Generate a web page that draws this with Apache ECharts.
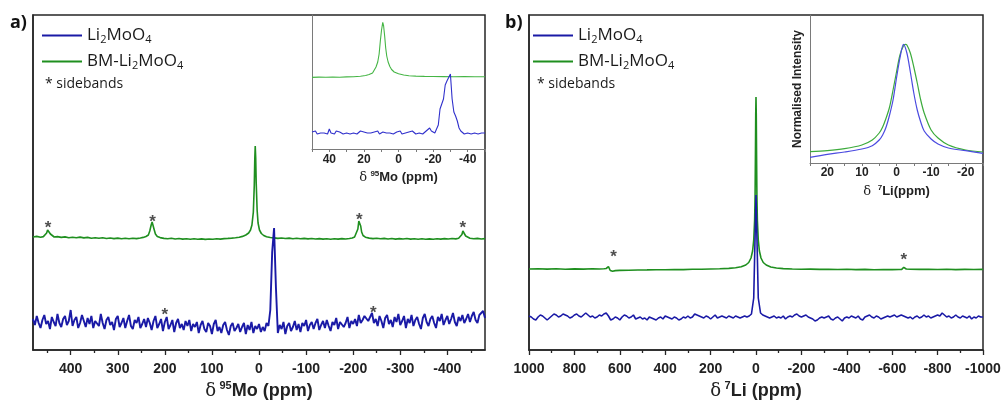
<!DOCTYPE html>
<html><head><meta charset="utf-8">
<script src="https://cdn.jsdelivr.net/npm/echarts@6/dist/echarts.min.js"></script>
<style>html,body{margin:0;padding:0;background:#fff}#c{width:1001px;height:400px}</style>
</head><body><div id="c"></div>
<script>
// ---------- DATA ----------
// Panel a: 95Mo spectra (x: ppm, y: arbitrary offset intensity)
const moBlueStart = 480, moBlueStep = -4;
const moBlueMain = [
31,25,34,27,22,30,35,26,29,21,
33,28,24,36,27,23,31,34,25,29,
40,24,30,33,22,27,35,29,23,32,
26,34,22,29,31,24,36,27,21,30,
33,25,28,20,31,34,23,27,32,22,
29,35,24,21,30,27,33,22,26,31,
23,32,27,20,29,34,22,26,31,19,
28,33,21,25,30,18,27,31,22,26,
20,29,24,30,19,26,23,28,17,25,
29,21,18,27,24,16,26,30,19,23,
17,25,28,20,15,24,27,19,22,26,
18,23,27,16,25,20,28,17,24,21,
26,18,23,19,27,24,40,98,122,62,
17,25,21,28,16,24,27,19,23,29,
20,26,18,27,24,30,19,25,28,21,
27,31,20,25,29,22,30,24,19,28,
25,32,21,28,30,23,27,33,22,29,
26,31,24,35,27,30,34,36,29,33,
37,27,31,24,34,29,22,32,35,26,
30,23,33,28,36,25,29,34,22,31,
27,35,24,30,33,26,21,32,36,28,
24,31,34,27,22,33,29,36,25,30,
34,26,31,37,28,24,33,29,35,27,
31,36,28,34,38,30,27,35,33,39,32
];
const moGreenMain = [
[480,113],[472,113.6],[464,112.8],[458,113.4],[454,114.5],[451,117],[449,120],[447,121],[445,119],[443,116],[440,114],[435,113],[428,113.4],[420,112.6],[412,113.1],[404,112.3],[396,112.8],[388,112.2],[380,112.9],[372,112.1],[364,112.6],[356,111.8],[348,112.3],[340,111.7],[332,112.2],[324,111.5],[316,112],[308,111.4],[300,111.9],[292,111.3],[284,111.8],[276,111.2],[268,111.7],[260,111.4],[252,112],[246,112.6],[240,113.5],[235,115],[232,119],[229,125],[227,128],[225,126],[223,121],[220,116],[216,113.5],[210,112.4],[202,111.6],[194,111.2],[186,111.7],[178,111],[170,111.5],[162,110.9],[154,111.3],[146,110.8],[138,111.2],[130,110.7],[122,111.1],[114,110.6],[106,111],[98,110.8],[90,111.3],[82,110.9],[74,111.4],[66,111.6],[58,111.9],[50,112.3],[42,112.8],[35,113.6],[28,115],[22,117],[18,120],[15,125],[12,138],[10,165],[9,190],[8,204],[7,192],[6,168],[4,140],[2,127],[-1,120],[-5,116.5],[-10,114.5],[-16,113.2],[-24,112.5],[-32,112.1],[-40,111.6],[-48,112],[-56,111.5],[-64,111.9],[-72,111.3],[-80,111.7],[-88,111.2],[-96,111.6],[-104,111.1],[-112,111.5],[-120,111],[-128,111.4],[-136,110.9],[-144,111.3],[-152,110.8],[-160,111.2],[-168,110.9],[-176,111.4],[-184,111],[-192,111.5],[-198,112],[-203,113],[-207,115],[-210,121],[-212,129],[-214,130],[-216,124],[-218,118],[-221,114.5],[-226,112.8],[-234,111.9],[-242,111.4],[-250,111.8],[-258,111.2],[-266,111.6],[-274,111],[-282,111.5],[-290,110.9],[-298,111.4],[-306,111],[-314,111.5],[-322,110.9],[-330,111.3],[-338,110.8],[-346,111.2],[-354,110.7],[-362,111.1],[-370,110.8],[-378,111.3],[-386,110.9],[-394,111.4],[-402,111],[-410,111.5],[-418,111.1],[-424,111.8],[-428,112.8],[-431,115.5],[-433,119],[-435,120],[-437,117],[-439,114],[-442,112.5],[-448,111.8],[-456,111.2],[-464,111.6],[-472,111],[-480,111.4]
];
const moStars = [[448,127],[226,133],[-213,135],[-433,127],[200,40],[-243,42]];
const moLabels = [400,300,200,100,0,-100,-200,-300,-400];
const moMinor = [450,350,250,150,50,-50,-150,-250,-350,-450];

// Panel a inset
const moInsetBlueStart = 50, moInsetBlueStep = -1;
const moBlueInset = [
17,16,18,15,17,16,18,16,17,15,
20,16,17,15,18,16,17,16,15,17,
16,18,15,17,16,17,15,16,18,16,
17,15,16,18,16,15,17,16,18,15,
16,17,15,16,18,16,17,15,16,17,
16,18,15,17,16,15,17,16,18,16,
15,17,16,17,15,16,18,17,21,18,
17,16,18,24,40,45,50,64,68,66,
75,50,37,33,28,21,18,17,15,17,
16,18,15,17,16,18,15,17,16,18,16
];
const moGreenInset = [
[50,71.6],[46,71.9],[42,71.7],[38,72],[34,71.8],[30,72.1],[26,72.3],[22,72.8],[19,73.5],[17,74.5],[15,76],[14,78],[13,82],[12,87],[11.2,95],[10.5,108],[9.8,119],[9.1,126.7],[8.6,123],[8,113],[7.4,101],[6.8,93],[6,87],[5,82.5],[4,79.5],[2.5,77],[0,75.2],[-3,74],[-6,73.3],[-10,72.9],[-15,72.6],[-20,72.5],[-26,72.4],[-32,72.3],[-38,72.4],[-44,72.3],[-50,72.3]
];

// Panel b: 7Li spectra
const liBlueStart = 1000, liBlueStep = -10;
const liBlueMain = [
34,33,31,30,33,35,34,32,30,32,
34,36,35,33,34,36,35,34,32,33,
35,36,34,33,35,37,35,33,34,32,
33,35,34,36,37,34,30,31,33,32,
30,33,35,34,32,33,35,31,32,33,
31,32,30,33,32,31,30,32,33,31,
34,33,32,31,33,32,30,31,33,32,
34,32,33,36,35,34,33,32,34,33,
31,33,35,32,33,34,33,32,34,33,
32,34,33,32,33,34,33,34,36,52,
155,
52,37,35,34,33,32,33,34,32,
33,32,34,31,33,34,33,35,36,34,
33,34,35,33,32,31,29,30,32,33,
32,33,34,31,30,32,33,31,29,32,
33,32,34,33,32,34,31,30,33,34,
35,33,32,34,33,31,32,33,34,33,
34,35,33,34,35,34,33,32,33,31,
33,34,32,33,35,33,34,32,33,34,
35,34,37,35,33,34,32,33,35,33,
32,34,33,32,34,31,33,32,34,33,33
];
const liGreenMain = [
[1000,81],[960,81.3],[920,80.9],[880,81.2],[840,80.8],[800,81.1],[760,80.9],[720,81.3],[690,81],[670,81.2],[660,81.5],[654,82.3],[650,83.3],[646,82.5],[642,79.5],[638,78.2],[632,78.8],[620,79.4],[600,79.6],[560,79.8],[520,80],[480,80.1],[440,80.3],[400,80.2],[360,80.5],[320,80.4],[280,80.7],[240,80.8],[200,81],[160,81.2],[120,81.6],[90,82.2],[65,83.2],[45,85],[32,87.5],[22,92],[15,99],[10,110],[6,130],[4,155],[2.5,195],[1.2,235],[0,253],[-1.2,235],[-2.5,195],[-4,155],[-6,130],[-10,110],[-15,99],[-22,92],[-32,87.5],[-45,85],[-65,83],[-90,82],[-120,81.4],[-160,81],[-200,80.8],[-240,80.9],[-280,80.6],[-320,80.8],[-360,80.5],[-400,80.7],[-440,80.4],[-480,80.6],[-520,80.3],[-560,80.5],[-600,80.4],[-630,80.5],[-642,80.6],[-647,81.8],[-651,82.7],[-656,81.9],[-662,81],[-680,80.7],[-720,80.6],[-760,80.8],[-800,80.5],[-840,80.7],[-880,80.4],[-920,80.6],[-960,80.5],[-1000,80.6]
];
const liStars = [[628,98],[-651,95]];

// Panel b inset (normalised)
const liBlueInset = [
[25,5.7],[20,8.7],[15,11],[10,14],[7,17.3],[5,23],[4,28],[3,36],[2,48],[1,63],[0,85],[-1,105],[-2,118.7],[-3,110],[-4,91],[-5,70],[-6,53],[-7,41],[-8,32],[-10,24],[-12,19],[-15,15],[-20,12.3],[-25,9.7]
];
const liGreenInset = [
[25,11.3],[20,12.3],[15,14.3],[10,18],[7,23],[5,30],[4,36],[3,45],[2,56],[1,73],[0,91],[-1,108],[-2,117],[-2.6,118.7],[-3,118],[-4,110],[-5,96],[-6,80],[-7,63],[-8,50],[-10,33],[-12,25],[-15,18],[-20,13],[-25,11]
];

// ---------- BUILD ----------
const onGrid = (start, step, vals) => vals.map((v, i) => [start + step * i, v]);

const C = {
  blue: '#1a1aa6', green: '#1f8f1f',
  blueInA: '#3030cc', greenInA: '#45b545',
  blueInB: '#4b4be0', greenInB: '#3cab3c',
  axis: '#262626', inAxis: '#7a7a7a'
};
const tickFont = {fontFamily: 'Liberation Sans', fontWeight: 'bold', color: '#222'};

function titleRich(size, supSize, supPad) {
  return {
    d: {fontFamily: 'DejaVu Serif', fontSize: size, color: '#222', lineHeight: size + 4},
    s: {fontFamily: 'Liberation Sans', fontWeight: 'bold', fontSize: supSize, color: '#222', lineHeight: supSize + 1, padding: [0, 0, supPad, 0]},
    b: {fontFamily: 'Liberation Sans', fontWeight: 'bold', fontSize: size, color: '#222', lineHeight: size + 4}
  };
}

const legendRich = {
  n: {fontFamily: 'Open Sans', fontSize: 17, color: '#1a1a1a', lineHeight: 20},
  s: {fontFamily: 'Open Sans', fontSize: 11, color: '#1a1a1a', lineHeight: 12, padding: [8, 0, 0, 0]}
};
const legendFmt = n => n === 'Li2MoO4' ? '{n|Li}{s|2}{n|MoO}{s|4}' : '{n|BM-Li}{s|2}{n|MoO}{s|4}';
function legend(left) {
  return {
    data: ['Li2MoO4', 'BM-Li2MoO4'], orient: 'vertical', left: left, top: 26, padding: 0,
    itemGap: 7, itemWidth: 40, itemHeight: 2, icon: 'rect', selectedMode: false,
    formatter: legendFmt, textStyle: {rich: legendRich, padding: [0, 0, 0, 0]}
  };
}

function starSeries(xi, yi, data) {
  return {
    type: 'scatter', xAxisIndex: xi, yAxisIndex: yi, data: data, symbolSize: 1,
    itemStyle: {color: 'rgba(0,0,0,0)'}, silent: true,
    label: {show: true, position: 'inside', formatter: '*', offset: [0, 5],
      fontFamily: 'Liberation Sans', fontWeight: 'bold', fontSize: 17, color: '#222'}
  };
}
function line(name, xi, yi, data, color, w, z, smooth) {
  return {type: 'line', name: name, xAxisIndex: xi, yAxisIndex: yi, data: data, symbol: 'none',
    smooth: smooth || false,
    lineStyle: {color: color, width: w}, itemStyle: {color: color}, z: z || 2, silent: true};
}
const yHidden = (gi, max, color, w) => ({gridIndex: gi, type: 'value', min: 0, max: max,
  axisLine: {show: true, onZero: false, lineStyle: {color: color, width: w}},
  axisTick: {show: false}, axisLabel: {show: false}, splitLine: {show: false}});

const yInsetB = yHidden(3, 148, C.inAxis, 1);
Object.assign(yInsetB, {name: 'Normalised Intensity', nameLocation: 'middle', nameGap: 6, nameRotate: 90,
  nameTextStyle: {fontFamily: 'Liberation Sans', fontWeight: 'bold', fontSize: 12, color: '#222'}});

const option = {
  animation: false,
  backgroundColor: '#fff',
  legend: [legend(42), legend(533)],
  grid: [
    {left: 33, top: 15, width: 452, height: 335, show: true, borderColor: C.axis, borderWidth: 1.5, outerBoundsMode: 'none', containLabel: false},
    {left: 529, top: 15, width: 454, height: 335, show: true, borderColor: C.axis, borderWidth: 1.5, outerBoundsMode: 'none', containLabel: false},
    {left: 312, top: 15, width: 173, height: 134, outerBoundsMode: 'none', containLabel: false},
    {left: 810, top: 15, width: 173, height: 148, outerBoundsMode: 'none', containLabel: false}
  ],
  xAxis: [
    {gridIndex: 0, type: 'value', inverse: true, min: -480, max: 480,
      axisLine: {onZero: false, lineStyle: {color: C.axis, width: 1.5}},
      axisTick: {customValues: moLabels, length: 5, lineStyle: {color: C.axis, width: 1.3}},
      axisLabel: Object.assign({customValues: moLabels, fontSize: 14, margin: 12}, tickFont),
      splitLine: {show: false},
      name: '{d|δ} {s|95}{b|Mo (ppm)}', nameLocation: 'middle', nameGap: 29,
      nameTextStyle: {rich: titleRich(18, 11, 10)}},
    {gridIndex: 0, type: 'value', inverse: true, min: -480, max: 480, position: 'bottom',
      axisLine: {show: false, onZero: false},
      axisTick: {customValues: moMinor, length: 3, lineStyle: {color: C.axis, width: 1.3}},
      axisLabel: {show: false}, splitLine: {show: false}},
    {gridIndex: 1, type: 'value', inverse: true, min: -1000, max: 1000, interval: 200,
      axisLine: {onZero: false, lineStyle: {color: C.axis, width: 1.5}},
      axisTick: {length: 5, lineStyle: {color: C.axis, width: 1.3}},
      minorTick: {show: true, splitNumber: 2, length: 3, lineStyle: {color: C.axis, width: 1.3}},
      axisLabel: Object.assign({fontSize: 14, margin: 12, formatter: v => String(v)}, tickFont),
      splitLine: {show: false},
      name: '{d|δ} {s|7}{b|Li (ppm)}', nameLocation: 'middle', nameGap: 29,
      nameTextStyle: {rich: titleRich(18, 11, 10)}},
    {gridIndex: 2, type: 'value', inverse: true, min: -50, max: 50, interval: 10,
      axisLine: {onZero: false, lineStyle: {color: C.inAxis, width: 1}},
      axisTick: {length: 3, lineStyle: {color: C.inAxis}},
      axisLabel: Object.assign({fontSize: 12, margin: 5, formatter: v => (v % 20 === 0 ? String(v) : '')}, tickFont),
      splitLine: {show: false},
      name: '{d|δ} {s|95}{b|Mo (ppm)}', nameLocation: 'middle', nameGap: 20,
      nameTextStyle: {rich: titleRich(13, 8, 7)}},
    {gridIndex: 3, type: 'value', inverse: true, min: -25, max: 25, interval: 5,
      axisLine: {onZero: false, lineStyle: {color: C.inAxis, width: 1}},
      axisTick: {length: 3, lineStyle: {color: C.inAxis}},
      axisLabel: Object.assign({fontSize: 12, margin: 4, formatter: v => (v % 10 === 0 ? String(v) : '')}, tickFont),
      splitLine: {show: false},
      name: '{d|δ}  {s|7}{b|Li(ppm)}', nameLocation: 'middle', nameGap: 20,
      nameTextStyle: {rich: titleRich(13, 8, 7)}}
  ],
  yAxis: [
    yHidden(0, 335, C.axis, 1.5),
    yHidden(1, 335, C.axis, 1.5),
    yHidden(2, 134, C.inAxis, 1),
    yInsetB
  ],
  graphic: [
    {type: 'text', left: 10, top: 14, style: {text: 'a)', font: 'bold 18px "Open Sans"', fill: '#111'}},
    {type: 'text', left: 505, top: 14, style: {text: 'b)', font: 'bold 18px "Open Sans"', fill: '#111'}},
    {type: 'text', left: 45, top: 77, style: {text: '* sidebands', font: '14px "Open Sans"', fill: '#1a1a1a'}},
    {type: 'text', left: 537, top: 77, style: {text: '* sidebands', font: '14px "Open Sans"', fill: '#1a1a1a'}}
  ],
  series: [
    line('BM-Li2MoO4', 0, 0, moGreenMain, C.green, 1.6),
    line('Li2MoO4', 0, 0, onGrid(moBlueStart, moBlueStep, moBlueMain), C.blue, 1.9, 3),
    starSeries(0, 0, moStars),
    line('BM-Li2MoO4', 2, 1, liGreenMain, C.green, 1.6),
    line('Li2MoO4', 2, 1, onGrid(liBlueStart, liBlueStep, liBlueMain), C.blue, 1.6, 3),
    starSeries(2, 1, liStars),
    line('inset green a', 3, 2, moGreenInset, C.greenInA, 1.1),
    line('inset blue a', 3, 2, onGrid(moInsetBlueStart, moInsetBlueStep, moBlueInset), C.blueInA, 1.1, 3),
    line('inset green b', 4, 3, liGreenInset, C.greenInB, 1.2, 2, 0.3),
    line('inset blue b', 4, 3, liBlueInset, C.blueInB, 1.2, 3, 0.3)
  ]
};

const chart = echarts.init(document.getElementById('c'), null, {renderer: 'canvas'});
chart.setOption(option);
</script></body></html>
